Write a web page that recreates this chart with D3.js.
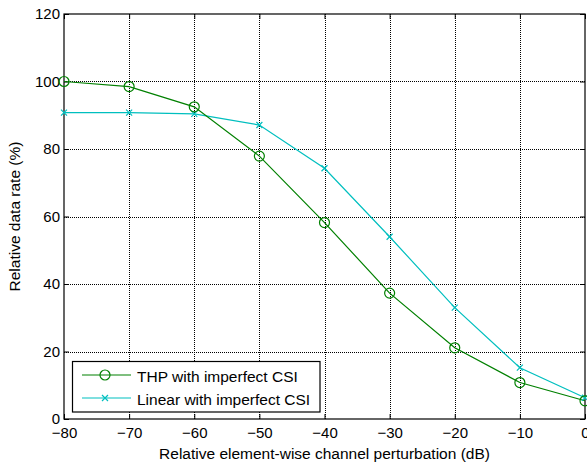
<!DOCTYPE html>
<html><head><meta charset="utf-8">
<script src="https://cdn.jsdelivr.net/npm/d3@7"></script>
<style>body{margin:0;background:#fff}text{font-family:"Liberation Sans",Arial,sans-serif}</style>
</head><body>
<script>
const xValues = [-80, -70, -60, -50, -40, -30, -20, -10, 0];
const thpValues = [100, 98.5, 92.5, 77.9, 58.2, 37.3, 21.1, 10.8, 5.4];
const linearValues = [90.8, 90.8, 90.4, 87.1, 74.3, 54.0, 33.0, 15.2, 6.3];
const xTicks = [-80, -70, -60, -50, -40, -30, -20, -10, 0];
const yTicks = [0, 20, 40, 60, 80, 100, 120];
const seriesNames = ["THP with imperfect CSI", "Linear with imperfect CSI"];

const W = 587, H = 465;
const L = 64, R = 585, T = 14, B = 419;
const svg = d3.select("body").append("svg").attr("width", W).attr("height", H);
const x = d3.scaleLinear().domain([-80, 0]).range([L, R]);
const y = d3.scaleLinear().domain([0, 120]).range([B, T]);

// grid
const g = svg.append("g");
g.selectAll(".vg").data(xTicks.slice(1, -1)).enter().append("line")
  .attr("x1", d => Math.round(x(d)) + 0.5).attr("x2", d => Math.round(x(d)) + 0.5).attr("y1", T).attr("y2", B)
  .attr("stroke", "#000").attr("stroke-width", 1).attr("stroke-dasharray", "1,1");
g.selectAll(".hg").data(yTicks.slice(1, -1)).enter().append("line")
  .attr("y1", d => Math.round(y(d)) + 0.5).attr("y2", d => Math.round(y(d)) + 0.5).attr("x1", L).attr("x2", R)
  .attr("stroke", "#000").attr("stroke-width", 1).attr("stroke-dasharray", "1,1");

// axes
const fs = 15;
const xAxis = d3.axisBottom(x).tickValues(xTicks).tickSize(-5).tickPadding(8).tickFormat(d3.format("d"));
const yAxis = d3.axisLeft(y).tickValues(yTicks).tickSize(-5).tickPadding(4).tickFormat(d3.format("d"));
const xa = svg.append("g").attr("transform", `translate(0,${B})`).call(xAxis);
const ya = svg.append("g").attr("transform", `translate(${L},0)`).call(yAxis);
const xt = svg.append("g").attr("transform", `translate(0,${T})`).call(d3.axisTop(x).tickValues(xTicks).tickSize(-5).tickFormat(""));
const yr = svg.append("g").attr("transform", `translate(${R},0)`).call(d3.axisRight(y).tickValues(yTicks).tickSize(-5).tickFormat(""));
[xa, ya, xt, yr].forEach(a => {
  a.select(".domain").remove();
  a.selectAll("line").attr("stroke", "#000");
  a.selectAll("text").attr("font-size", fs).attr("fill", "#000").attr("font-family", "Liberation Sans, Arial, sans-serif");
});
svg.append("rect").attr("x", L).attr("y", T).attr("width", R - L).attr("height", B - T)
  .attr("fill", "none").attr("stroke", "#000").attr("stroke-width", 1.2);

// labels
svg.append("text").attr("x", (L + R) / 2).attr("y", 459).attr("text-anchor", "middle")
  .attr("font-size", 15.5).text("Relative element-wise channel perturbation (dB)");
svg.append("text").attr("transform", `translate(20,${(T + B) / 2}) rotate(-90)`).attr("text-anchor", "middle")
  .attr("font-size", 15.5).text("Relative data rate (%)");

// series
const green = "#008000", cyan = "#00bfbf";
const line = d3.line().x((d, i) => x(xValues[i])).y(d => y(d));
svg.append("path").datum(linearValues).attr("d", line).attr("fill", "none").attr("stroke", cyan).attr("stroke-width", 1.2);
svg.append("path").datum(thpValues).attr("d", line).attr("fill", "none").attr("stroke", green).attr("stroke-width", 1.2);

function cross(sel, cx, cy, s, color) {
  sel.append("path").attr("d", `M${cx - s},${cy - s}L${cx + s},${cy + s}M${cx - s},${cy + s}L${cx + s},${cy - s}`)
    .attr("stroke", color).attr("stroke-width", 1.2).attr("fill", "none");
}
linearValues.forEach((v, i) => cross(svg, x(xValues[i]), y(v), 3, cyan));
svg.selectAll(".thpc").data(thpValues).enter().append("circle")
  .attr("cx", (d, i) => x(xValues[i])).attr("cy", d => y(d)).attr("r", 5)
  .attr("fill", "none").attr("stroke", green).attr("stroke-width", 1.2);

// legend
const lg = svg.append("g");
lg.append("rect").attr("x", 72.5).attr("y", 361.5).attr("width", 247.5).attr("height", 50.5)
  .attr("fill", "#fff").attr("stroke", "#000").attr("stroke-width", 1.2);
const rows = [375, 398];
[green, cyan].forEach((c, i) => {
  lg.append("line").attr("x1", 82).attr("x2", 131).attr("y1", rows[i]).attr("y2", rows[i]).attr("stroke", c).attr("stroke-width", 1.2);
  if (i === 0) lg.append("circle").attr("cx", 105).attr("cy", rows[i]).attr("r", 5).attr("fill", "none").attr("stroke", c).attr("stroke-width", 1.2);
  else cross(lg, 105, rows[i], 3, c);
  lg.append("text").attr("x", 137).attr("y", rows[i] + 6.5).attr("font-size", 15.5).text(seriesNames[i]);
});
</script>
</body></html>
